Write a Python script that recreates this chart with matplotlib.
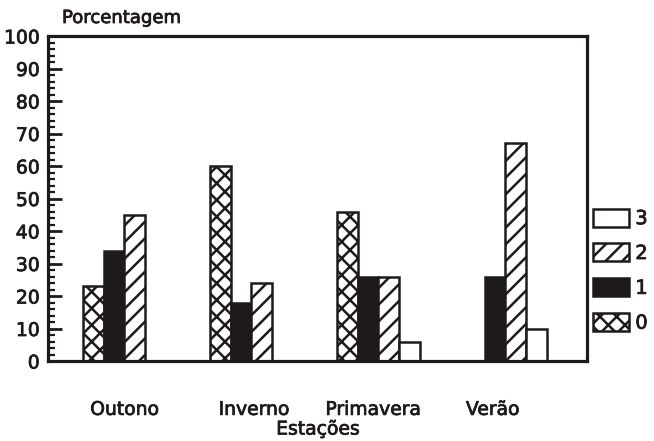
import matplotlib
matplotlib.use("Agg")
import matplotlib.pyplot as plt
import matplotlib.patheffects as pe
import numpy as np

categories = ["Outono", "Inverno", "Primavera", "Verão"]
series_names = ["0", "1", "2", "3"]
values_0 = [23, 60, 46, 0]
values_1 = [34, 18, 26, 26]
values_2 = [45, 24, 26, 67]
values_3 = [0, 0, 6, 10]
label_pos = [0.0, 0.02, -0.04, -0.1]
yticks = list(range(0, 101, 10))

plt.rcParams['font.family'] = ['DejaVu Sans']
plt.rcParams['hatch.linewidth'] = 1.8
plt.rcParams['hatch.color'] = '#1a1a1a'

ink = '#1f1a1a'
heavy = [pe.withStroke(linewidth=0.55, foreground=ink)]

fig = plt.figure(figsize=(6.54, 4.41), dpi=100)
ax = fig.add_axes([48/654, 80/441, (587-48)/654, (361-36)/441])

w = 0.165
x = np.arange(len(categories))
styles = [
    dict(facecolor='white', hatch='xx'),
    dict(facecolor=ink, hatch=None),
    dict(facecolor='white', hatch='//'),
    dict(facecolor='white', hatch=None),
]
all_vals = [values_0, values_1, values_2, values_3]
handles = []
for i, (vals, st) in enumerate(zip(all_vals, styles)):
    offs = (i - 1.5) * w
    xs = [xi + offs for xi, v in zip(x, vals) if v > 0]
    vs = [v for v in vals if v > 0]
    b = ax.bar(xs, vs, width=w, edgecolor=ink, linewidth=1.8, align='center', **st)
    handles.append(b)

ax.set_xlim(-0.602, 3.642)
ax.set_ylim(0, 100)
for s in ax.spines.values():
    s.set_linewidth(2.3)
    s.set_color(ink)

ax.set_yticks(yticks)
ax.set_yticklabels([str(t) for t in yticks], fontsize=13.5, color=ink)
ax.set_yticks(np.arange(0, 101, 2), minor=True)
ax.tick_params(axis='y', which='major', direction='in', length=10, width=2, pad=6, color=ink)
ax.tick_params(axis='y', which='minor', direction='in', length=5, width=1.6, color=ink)
ax.tick_params(axis='y', right=False)
ax.set_xticks([xi + p for xi, p in zip(x, label_pos)])
ax.set_xticklabels(categories, fontsize=13.5, color=ink)
ax.tick_params(axis='x', length=0, pad=28)
for t in ax.get_yticklabels() + ax.get_xticklabels():
    t.set_path_effects(heavy)

fig.text(62/654, 1 - 18/441, "Porcentagem", fontsize=13, color=ink, va='center', ha='left',
         path_effects=heavy)
fig.text(318/654, 1 - 429/441, "Estações", fontsize=13.5, color=ink, va='center', ha='center',
         path_effects=heavy)

leg = fig.legend(handles[::-1], series_names[::-1], loc='upper left',
                 bbox_to_anchor=(577/654, 1 - 193/441), frameon=False,
                 fontsize=14, handlelength=1.85, handleheight=1.05,
                 labelspacing=0.78, handletextpad=0.35, borderpad=0.3)
for t in leg.get_texts():
    t.set_color(ink)
    t.set_path_effects(heavy)

fig.savefig("out.png", dpi=100)
